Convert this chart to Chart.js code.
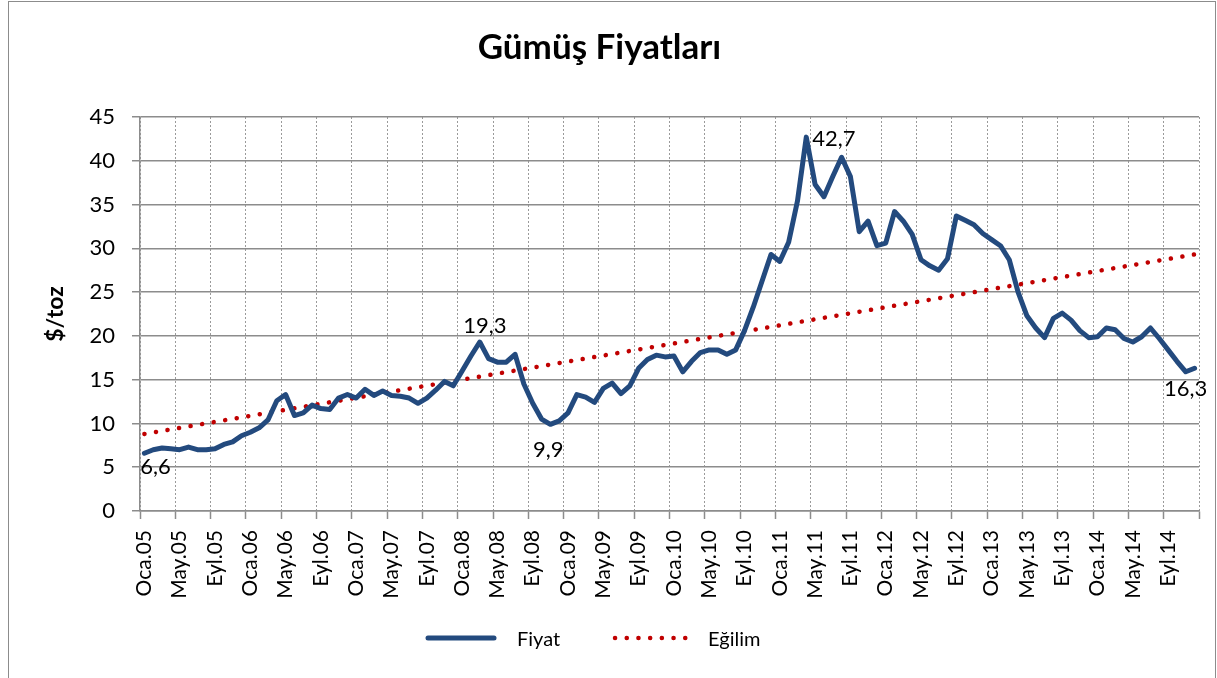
<!DOCTYPE html>
<html>
<head>
<meta charset="utf-8">
<script src="https://cdn.jsdelivr.net/npm/chart.js@4.4.1/dist/chart.umd.min.js"></script>
<style>
  html, body { margin: 0; padding: 0; background: #fff; }
  #wrap { position: relative; width: 1217px; height: 678px; }
  #frame { position: absolute; left: 8px; top: 1px; width: 1206px; height: 700px; border: 1px solid #8c8c8c; pointer-events: none; }
</style>
</head>
<body>
<div id="wrap">
  <canvas id="c" width="1217" height="678"></canvas>
  <div id="frame"></div>
</div>
<script>
// monthly silver price, Jan 2005 - Dec 2014 ($/toz)
const months = ['Oca', 'Şub', 'Mar', 'Nis', 'May', 'Haz', 'Tem', 'Ağu', 'Eyl', 'Eki', 'Kas', 'Ara'];
const years = ['05', '06', '07', '08', '09', '10', '11', '12', '13', '14'];
const fiyat = [
  6.6, 7.0, 7.2, 7.1, 7.0, 7.3, 7.0, 7.0, 7.1, 7.6, 7.9, 8.6,
  9.0, 9.5, 10.4, 12.6, 13.3, 10.9, 11.2, 12.1, 11.7, 11.6, 12.9, 13.3,
  12.9, 13.9, 13.2, 13.7, 13.2, 13.1, 12.9, 12.3, 12.9, 13.8, 14.8, 14.3,
  16.0, 17.7, 19.3, 17.4, 17.0, 17.0, 17.9, 14.5, 12.3, 10.5, 9.9, 10.3,
  11.2, 13.3, 13.0, 12.4, 14.0, 14.6, 13.4, 14.3, 16.3, 17.3, 17.8, 17.6,
  17.7, 15.9, 17.1, 18.1, 18.4, 18.4, 17.9, 18.4, 20.6, 23.3, 26.3, 29.3,
  28.5, 30.7, 35.4, 42.7, 37.3, 35.9, 38.2, 40.4, 38.2, 31.9, 33.1, 30.3,
  30.6, 34.2, 33.1, 31.6, 28.7, 28.0, 27.5, 28.8, 33.7, 33.2, 32.7, 31.7,
  31.0, 30.3, 28.7, 25.0, 22.3, 20.9, 19.8, 22.0, 22.6, 21.8, 20.6, 19.8,
  19.9, 20.9, 20.7, 19.7, 19.3, 19.9, 20.9, 19.7, 18.4, 17.1, 15.9, 16.3
];
// linear trend (Eğilim), read at both ends
const egilimStart = 8.8;
const egilimEnd = 29.3;
const labelledPoints = [0, 38, 46, 75, 119];
const yTicks = [0, 5, 10, 15, 20, 25, 30, 35, 40, 45];

const labels = [];
years.forEach(y => months.forEach(m => labels.push(m + '.' + y)));
const egilim = fiyat.map((v, i) => i === 0 ? egilimStart : (i === fiyat.length - 1 ? egilimEnd : null));

Chart.defaults.font.family = 'Lato, "Open Sans", sans-serif';
Chart.defaults.color = '#000';

const every4 = (c, col) => (c.type !== 'tick' || c.index % 4 === 0) ? col : 'rgba(0,0,0,0)';

// value labels on a few points
const pointLabels = {
  id: 'pointLabels',
  afterDatasetsDraw(chart) {
    const meta = chart.getDatasetMeta(0);
    const ctx = chart.ctx;
    const place = { 0: [11, 14, 'center'], 38: [5, -16, 'center'], 46: [-2, 26, 'center'], 75: [6, 2, 'left'], 119: [-9, 21, 'center'] };
    ctx.save();
    ctx.font = '22px Lato';
    ctx.fillStyle = '#000';
    ctx.textBaseline = 'middle';
    labelledPoints.forEach(i => {
      const pt = meta.data[i];
      const [dx, dy, align] = place[i];
      ctx.textAlign = align;
      ctx.fillText(fiyat[i].toFixed(1).replace('.', ','), pt.x + dx, pt.y + dy);
    });
    ctx.restore();
  }
};

// legend drawn like the Excel one: sample line, gap, name
const excelLegend = {
  id: 'excelLegend',
  afterDraw(chart) {
    const ctx = chart.ctx;
    const items = [
      { ds: chart.data.datasets[0], x0: 428, x1: 494, tx: 517 },
      { ds: chart.data.datasets[1], x0: 615, x1: 695, tx: 708 }
    ];
    const y = 638;
    ctx.save();
    items.forEach(it => {
      ctx.beginPath();
      ctx.strokeStyle = it.ds.borderColor;
      ctx.lineWidth = it.ds.borderWidth;
      ctx.lineCap = it.ds.borderCapStyle || 'butt';
      ctx.setLineDash(it.ds.borderDash || []);
      ctx.moveTo(it.x0, y);
      ctx.lineTo(it.x1, y);
      ctx.stroke();
      ctx.setLineDash([]);
      ctx.font = '20px Lato';
      ctx.fillStyle = '#000';
      ctx.textAlign = 'left';
      ctx.textBaseline = 'middle';
      ctx.fillText(it.ds.label, it.tx, y + 2);
    });
    ctx.restore();
  }
};

new Chart(document.getElementById('c'), {
  type: 'line',
  data: {
    labels,
    datasets: [
      {
        label: 'Fiyat',
        data: fiyat,
        borderColor: '#234A7E',
        borderWidth: 5,
        borderCapStyle: 'round',
        borderJoinStyle: 'round',
        pointRadius: 0,
        tension: 0
      },
      {
        label: 'Eğilim',
        data: egilim,
        spanGaps: true,
        borderColor: '#C00000',
        borderWidth: 4.5,
        borderDash: [0.1, 11.6],
        borderCapStyle: 'round',
        pointRadius: 0,
        tension: 0
      }
    ]
  },
  options: {
    responsive: false,
    animation: false,
    layout: { padding: { left: 0, right: 18, top: 0, bottom: 67 } },
    plugins: {
      title: {
        display: true,
        text: 'Gümüş Fiyatları',
        font: { size: 35, weight: 'bold' },
        color: '#000',
        padding: { top: 27, bottom: 48 }
      },
      legend: { display: false },
      tooltip: { enabled: false }
    },
    scales: {
      x: {
        offset: true,
        afterFit: s => { s.height = 100; s.paddingLeft = 0; s.paddingRight = 0; },
        grid: {
          offset: true,
          color: c => every4(c, '#9a9a9a'),
          tickColor: c => every4(c, '#8c8c8c'),
          tickLength: 8,
          lineWidth: 1,
          tickWidth: 1.5
        },
        border: { display: true, color: '#8c8c8c', width: 1.5, dash: [2, 2] },
        ticks: {
          autoSkip: false,
          maxRotation: 90,
          minRotation: 90,
          padding: 11,
          font: { size: 21 },
          color: '#000',
          callback: (v, i) => i % 4 === 0 ? labels[i] : ''
        }
      },
      y: {
        min: 0,
        max: 45,
        afterFit: s => { s.width = 140; },
        afterBuildTicks: s => { s.ticks = yTicks.map(v => ({ value: v })); },
        grid: { color: '#8c8c8c', lineWidth: 1.5, tickLength: 8 },
        border: { display: true, color: '#8c8c8c', width: 1.5 },
        ticks: { padding: 17, font: { size: 22 }, color: '#000' },
        title: {
          display: true,
          text: '$/toz',
          font: { size: 23, weight: 'bold' },
          color: '#000',
          padding: { top: 42, bottom: 0 }
        }
      }
    }
  },
  plugins: [pointLabels, excelLegend]
});
</script>
</body>
</html>
